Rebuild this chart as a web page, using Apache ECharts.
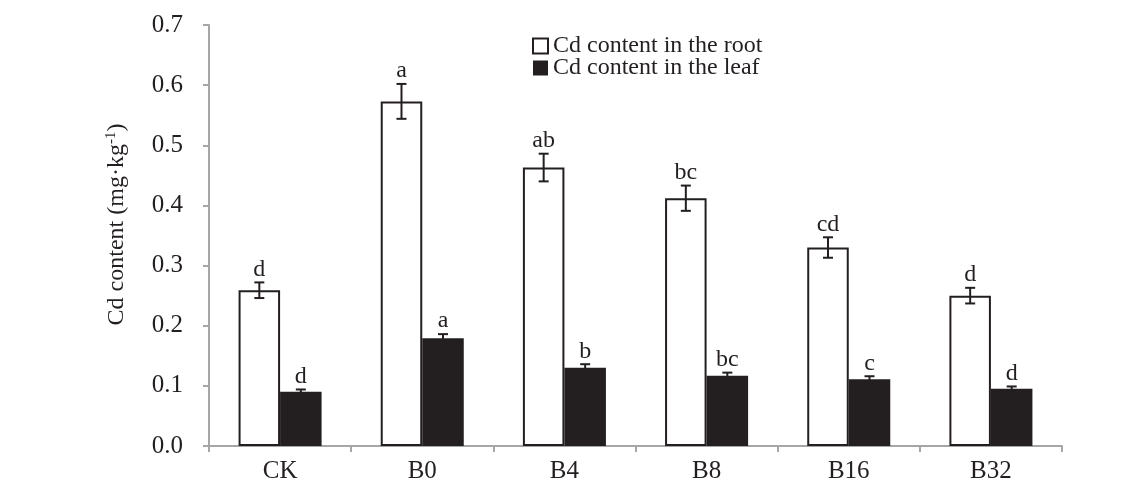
<!DOCTYPE html>
<html>
<head>
<meta charset="utf-8">
<script src="https://cdn.jsdelivr.net/npm/echarts@6/dist/echarts.min.js"></script>
<style>
html,body{margin:0;padding:0;background:#fff;}
#chart{width:1140px;height:485px;}
</style>
</head>
<body>
<div id="chart"></div>
<script>
const categories = ['CK', 'B0', 'B4', 'B8', 'B16', 'B32'];
const rootValues = [0.259, 0.573, 0.463, 0.412, 0.330, 0.250];
const rootErrors = [0.013, 0.029, 0.023, 0.021, 0.017, 0.013];
const rootLetters = ['d', 'a', 'ab', 'bc', 'cd', 'd'];
const leafValues = [0.090, 0.179, 0.130, 0.117, 0.111, 0.095];
const leafErrors = [0.004, 0.007, 0.006, 0.005, 0.005, 0.004];
const leafLetters = ['d', 'a', 'b', 'bc', 'c', 'd'];
const rootName = 'Cd content in the root';
const leafName = 'Cd content in the leaf';
const yMin = 0, yMax = 0.7, yInterval = 0.1;

const FONT = '"Liberation Serif", "Times New Roman", serif';
const INK = '#231f20';
const AXIS = '#a6a6a6';
const BAR_RATIO = 0.292;

function errorSeries(values, errors, letters, side) {
  return {
    type: 'custom',
    z: 10,
    silent: true,
    data: values.map((v, i) => [i, v, errors[i]]),
    renderItem: function (params, api) {
      const i = api.value(0), v = api.value(1), e = api.value(2);
      const band = api.size([1, 0])[0];
      const off = side * band * BAR_RATIO / 2;
      const top = api.coord([i, v + e]);
      const bot = api.coord([i, v - e]);
      const x = top[0] + off;
      const cap = 5;
      const ls = { stroke: INK, lineWidth: 2 };
      return {
        type: 'group',
        children: [
          { type: 'line', shape: { x1: x, y1: top[1], x2: x, y2: bot[1] }, style: ls },
          { type: 'line', shape: { x1: x - cap, y1: top[1], x2: x + cap, y2: top[1] }, style: ls },
          { type: 'line', shape: { x1: x - cap, y1: bot[1], x2: x + cap, y2: bot[1] }, style: ls },
          { type: 'text', style: { text: letters[params.dataIndex], x: x, y: top[1] - 1,
              align: 'center', verticalAlign: 'bottom', fontSize: 24, fontFamily: FONT, fill: INK } }
        ]
      };
    }
  };
}

const chart = echarts.init(document.getElementById('chart'), null, { renderer: 'canvas' });
chart.setOption({
  backgroundColor: '#fff',
  animation: false,
  textStyle: { fontFamily: FONT, color: INK },
  grid: { left: 209, right: 78, top: 25, bottom: 39, containLabel: false },
  legend: {
    orient: 'vertical',
    left: 527,
    top: 29,
    itemWidth: 15,
    itemHeight: 15,
    itemGap: -2,
    icon: 'rect',
    textStyle: { fontFamily: FONT, fontSize: 24, color: INK, lineHeight: 22, padding: [0, 0, 0, 0] },
    data: [
      { name: rootName, itemStyle: { color: '#fff', borderColor: INK, borderWidth: 2 } },
      { name: leafName, itemStyle: { color: INK, borderColor: INK, borderWidth: 0 } }
    ]
  },
  xAxis: {
    type: 'category',
    data: categories,
    axisLine: { lineStyle: { color: AXIS, width: 2 } },
    axisTick: { show: true, length: 6, lineStyle: { color: AXIS, width: 2 } },
    axisLabel: { fontSize: 25, fontFamily: FONT, color: INK, margin: 13 },
    splitLine: { show: false }
  },
  yAxis: {
    type: 'value',
    min: yMin,
    max: yMax,
    interval: yInterval,
    name: 'Cd content (mg·kg{sup|-1})',
    nameLocation: 'middle',
    nameGap: 80,
    nameTextStyle: {
      fontSize: 24, fontFamily: FONT, color: INK, padding: [0, 0, 0, 22],
      rich: { sup: { fontSize: 15, fontFamily: FONT, color: INK, verticalAlign: 'bottom', padding: [0, 0, 10, 0] } }
    },
    axisLine: { show: true, lineStyle: { color: AXIS, width: 2 } },
    axisTick: { show: true, length: 6, lineStyle: { color: AXIS, width: 2 } },
    axisLabel: { fontSize: 25, fontFamily: FONT, color: INK, margin: 26,
      formatter: v => v.toFixed(1) },
    splitLine: { show: false }
  },
  series: [
    {
      name: rootName,
      type: 'bar',
      data: rootValues,
      barWidth: (BAR_RATIO * 100) + '%',
      barGap: '0%',
      itemStyle: { color: '#fff', borderColor: INK, borderWidth: 2 }
    },
    {
      name: leafName,
      type: 'bar',
      data: leafValues,
      barWidth: (BAR_RATIO * 100) + '%',
      barGap: '0%',
      itemStyle: { color: INK }
    },
    errorSeries(rootValues, rootErrors, rootLetters, -1),
    errorSeries(leafValues, leafErrors, leafLetters, 1)
  ]
});
</script>
</body>
</html>
